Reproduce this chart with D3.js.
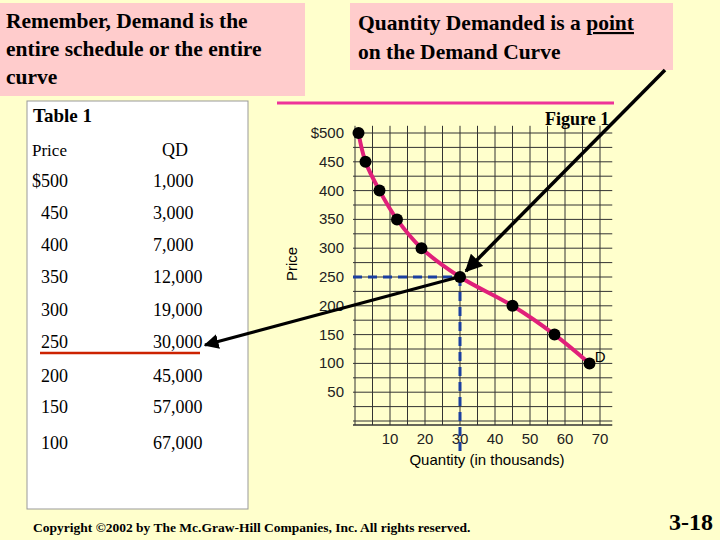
<!DOCTYPE html>
<html><head><meta charset="utf-8">
<script src="https://cdn.jsdelivr.net/npm/d3@7"></script>
<style>body{margin:0;background:#ffffcc}svg{display:block}</style>
</head><body><svg id="c" width="720" height="540"></svg>
<script>
// demand schedule
var prices = [500, 450, 400, 350, 300, 250, 200, 150, 100];
var qdLabels = ["$500", "450", "400", "350", "300", "250", "200", "150", "100"];
var quantities = [1, 3, 7, 12, 19, 30, 45, 57, 67]; // thousands
var qdText = ["1,000", "3,000", "7,000", "12,000", "19,000", "30,000", "45,000", "57,000", "67,000"];
var xTicks = [10, 20, 30, 40, 50, 60, 70];
var yTicks = [50, 100, 150, 200, 250, 300, 350, 400, 450, 500];

var svg = d3.select("#c");
var serif = "Times New Roman, Liberation Serif, serif";
var sans = "Arial, Liberation Sans, sans-serif";

svg.append("rect").attr("width", 720).attr("height", 540).attr("fill", "#ffffcc");

// text boxes
svg.append("rect").attr("x", 0).attr("y", 3).attr("width", 305).attr("height", 93).attr("fill", "#ffcccc");
["Remember, Demand is the", "entire schedule or the entire", "curve"].forEach(function (t, i) {
  svg.append("text").attr("x", 6).attr("y", 28 + i * 28).text(t)
    .attr("font-family", serif).attr("font-size", 21.5).attr("font-weight", "bold");
});
svg.append("rect").attr("x", 350).attr("y", 3).attr("width", 323).attr("height", 67).attr("fill", "#ffcccc");
var q1 = svg.append("text").attr("x", 358).attr("y", 30).attr("font-family", serif).attr("font-size", 21.5).attr("font-weight", "bold");
q1.append("tspan").text("Quantity Demanded is a ");
q1.append("tspan").text("point").attr("text-decoration", "underline");
svg.append("text").attr("x", 358).attr("y", 59).text("on the Demand Curve")
  .attr("font-family", serif).attr("font-size", 21.5).attr("font-weight", "bold");
svg.append("line").attr("x1", 277).attr("x2", 614).attr("y1", 103).attr("y2", 103)
  .attr("stroke", "#ee3399").attr("stroke-width", 3);

// table
svg.append("rect").attr("x", 27).attr("y", 101).attr("width", 221).attr("height", 408)
  .attr("fill", "white").attr("stroke", "#999").attr("stroke-width", 1);
svg.append("text").attr("x", 33).attr("y", 122).text("Table 1").attr("font-family", serif).attr("font-size", 19).attr("font-weight", "bold");
svg.append("text").attr("x", 32).attr("y", 156).text("Price").attr("font-family", serif).attr("font-size", 17);
svg.append("text").attr("x", 162).attr("y", 156).text("QD").attr("font-family", serif).attr("font-size", 18);
var rowY = [187, 219, 251, 283, 316, 348, 382, 413, 449];
prices.forEach(function (p, i) {
  svg.append("text").attr("x", i === 0 ? 32 : 41).attr("y", rowY[i]).text(qdLabels[i]).attr("font-family", serif).attr("font-size", 18);
  svg.append("text").attr("x", 153).attr("y", rowY[i]).text(qdText[i]).attr("font-family", serif).attr("font-size", 18);
});
svg.append("line").attr("x1", 40).attr("x2", 200).attr("y1", 353).attr("y2", 353).attr("stroke", "#cc2200").attr("stroke-width", 2.5);

// chart
var x = d3.scaleLinear().domain([0, 10]).range([355, 390]);
var y = d3.scaleLinear().domain([0, 50]).range([421, 392.2]);
var pLeft = x(0) - 2, pRight = x(73.5), pTop = y(512.5), pBottom = y(-7);
var g = svg.append("g");
g.append("rect").attr("x", pLeft).attr("y", pTop).attr("width", pRight - pLeft).attr("height", pBottom - pTop).attr("fill", "#ffffcc");
d3.range(0, 75, 5).forEach(function (v) {
  g.append("line").attr("x1", x(v)).attr("x2", x(v)).attr("y1", pTop).attr("y2", pBottom).attr("stroke", "#333").attr("stroke-width", 1);
});
d3.range(0, 525, 25).forEach(function (v) {
  g.append("line").attr("x1", pLeft).attr("x2", pRight).attr("y1", y(v)).attr("y2", y(v)).attr("stroke", "#333").attr("stroke-width", 1);
});
g.append("line").attr("x1", pLeft).attr("x2", pRight).attr("y1", pBottom).attr("y2", pBottom).attr("stroke", "#333").attr("stroke-width", 1.5);
yTicks.forEach(function (v) {
  g.append("text").attr("x", pLeft - 9).attr("y", y(v) + 5).attr("text-anchor", "end").text(v === 500 ? "$500" : v)
    .attr("font-family", sans).attr("font-size", 15).attr("fill", "#222");
});
xTicks.forEach(function (v) {
  g.append("text").attr("x", x(v)).attr("y", pBottom + 19).attr("text-anchor", "middle").text(v)
    .attr("font-family", sans).attr("font-size", 15).attr("fill", "#222");
});
g.append("text").attr("transform", "translate(297,264) rotate(-90)").attr("text-anchor", "middle").text("Price")
  .attr("font-family", sans).attr("font-size", 15);
g.append("text").attr("x", 487).attr("y", 465).attr("text-anchor", "middle").text("Quantity (in thousands)")
  .attr("font-family", sans).attr("font-size", 15);

// dashed guides at the point
g.append("line").attr("x1", pLeft).attr("x2", x(30)).attr("y1", y(250)).attr("y2", y(250))
  .attr("stroke", "#1a3fa0").attr("stroke-width", 3).attr("stroke-dasharray", "9,6");
g.append("line").attr("x1", x(30)).attr("x2", x(30)).attr("y1", y(250)).attr("y2", pBottom + 28)
  .attr("stroke", "#1a3fa0").attr("stroke-width", 3).attr("stroke-dasharray", "9,6");

var pts = quantities.map(function (q, i) { return [x(q), y(prices[i])]; });
g.append("path").attr("d", d3.line().curve(d3.curveCatmullRom)(pts)).attr("fill", "none")
  .attr("stroke", "#e0207a").attr("stroke-width", 4);
pts.forEach(function (p) { g.append("circle").attr("cx", p[0]).attr("cy", p[1]).attr("r", 6).attr("fill", "black"); });
g.append("text").attr("x", x(68.5)).attr("y", y(100) - 1).text("D").attr("font-family", sans).attr("font-size", 15);

svg.append("text").attr("x", 545).attr("y", 125).text("Figure 1").attr("font-family", serif).attr("font-size", 18).attr("font-weight", "bold");

// arrows
var defs = svg.append("defs");
defs.append("marker").attr("id", "ah").attr("viewBox", "0 0 10 10").attr("refX", 9).attr("refY", 5)
  .attr("markerWidth", 5).attr("markerHeight", 5).attr("orient", "auto")
  .append("path").attr("d", "M0,0L10,5L0,10z").attr("fill", "black");
svg.append("line").attr("x1", 665).attr("y1", 70).attr("x2", 466).attr("y2", 271)
  .attr("stroke", "black").attr("stroke-width", 3.5).attr("marker-end", "url(#ah)");
svg.append("line").attr("x1", 455).attr("y1", 278).attr("x2", 205).attr("y2", 345)
  .attr("stroke", "black").attr("stroke-width", 3).attr("marker-end", "url(#ah)");

// footer
var f = svg.append("text").attr("x", 33).attr("y", 532).attr("font-family", serif).attr("font-size", 13.5).attr("font-weight", "bold");
f.text("Copyright \u00a92002 by The Mc.Graw-Hill Companies, Inc.  All rights reserved.");
svg.append("text").attr("x", 713).attr("y", 530).attr("text-anchor", "end").text("3-18")
  .attr("font-family", serif).attr("font-size", 24).attr("font-weight", "bold");
</script></body></html>
